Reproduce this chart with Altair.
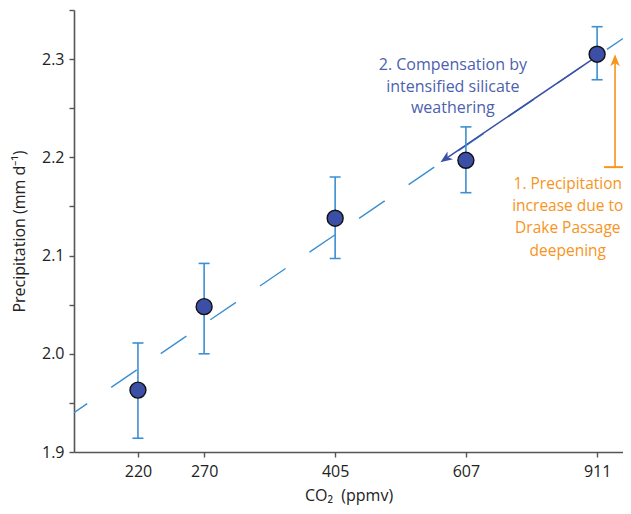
import altair as alt
import pandas as pd

# --- data ---
co2 = [220, 270, 405, 607, 911]
precip = [1.963, 2.048, 2.138, 2.197, 2.305]
err_low = [1.914, 2.000, 2.097, 2.164, 2.279]
err_high = [2.011, 2.092, 2.180, 2.231, 2.333]

x_domain = [180.5, 987]
fit_x = [180.5, 987]
fit_y = [1.940, 2.321]

comp_x = [911, 566]
comp_y = [2.303, 2.197]
comp_tip_x = [561]
comp_tip_y = [2.195]

drake_x = [963, 963]
drake_y = [2.190, 2.296]
drake_tip_y = [2.305]

blue_text = ["2. Compensation by\nintensified silicate\nweathering"]
blue_text_x = [583]
blue_text_y = [2.294]
orange_text = ["1. Precipitation\nincrease due to\nDrake Passage\ndeepening"]
orange_text_x = [832]
orange_text_y = [2.173]

x_ticks = [220, 270, 405, 607, 911]
y_ticks = [1.9, 1.95, 2.0, 2.05, 2.1, 2.15, 2.2, 2.25, 2.3, 2.35]

FONT = "Open Sans"
LIGHT = "#3b8fd2"
DARK = "#3c4fa6"
ORANGE = "#f7941d"

pts = pd.DataFrame({"co2": co2, "p": precip, "lo": err_low, "hi": err_high})
fit = pd.DataFrame({"co2": fit_x, "p": fit_y})
comp = pd.DataFrame({"co2": comp_x, "p": comp_y})
comp_tip = pd.DataFrame({"co2": comp_tip_x, "p": comp_tip_y})
drake = pd.DataFrame({"co2": drake_x, "p": drake_y})
drake_cap = pd.DataFrame({"co2": drake_x[:1], "p": drake_y[:1]})
drake_tip = pd.DataFrame({"co2": drake_x[:1], "p": drake_tip_y})
btxt = pd.DataFrame({"co2": blue_text_x, "p": blue_text_y, "t": blue_text})
otxt = pd.DataFrame({"co2": orange_text_x, "p": orange_text_y, "t": orange_text})

xscale = alt.Scale(type="log", domain=x_domain, nice=False, zero=False)
yscale = alt.Scale(domain=[1.9, 2.35], nice=False, zero=False)

xenc = alt.X("co2:Q", scale=xscale, title="CO₂\u00a0\u00a0(ppmv)",
             axis=alt.Axis(values=x_ticks, format="d", grid=False, labelFlush=False))
yenc = alt.Y("p:Q", scale=yscale, title="Precipitation (mm d⁻¹)",
             axis=alt.Axis(values=y_ticks, grid=False,
                           labelExpr="abs(datum.value*10 - round(datum.value*10)) < 0.01 && datum.value < 2.32 ? format(datum.value, '.1f') : ''"))

x_plain = alt.X("co2:Q", scale=xscale)
y_plain = alt.Y("p:Q", scale=yscale)

fit_line = alt.Chart(fit).mark_line(color=LIGHT, strokeWidth=1.4, strokeDash=[31, 29],
                                    strokeDashOffset=15, clip=True).encode(x=xenc, y=yenc)

comp_line = alt.Chart(comp).mark_line(color=DARK, strokeWidth=1.5).encode(x=x_plain, y=y_plain)
ARROW = "M0,0L0.8,2L0,1.45L-0.8,2Z"
comp_head = alt.Chart(comp_tip).mark_point(shape=ARROW, size=144, angle=235, filled=True,
                                           color=DARK, opacity=1).encode(x=x_plain, y=y_plain)

drake_line = alt.Chart(drake).mark_line(color=ORANGE, strokeWidth=1.6).encode(x=x_plain, y=y_plain)
drake_capm = alt.Chart(drake_cap).mark_tick(color=ORANGE, orient="horizontal", size=22,
                                            thickness=2, opacity=1).encode(x=x_plain, y=y_plain)
drake_head = alt.Chart(drake_tip).mark_point(shape=ARROW, size=144, angle=0, filled=True,
                                             color=ORANGE, opacity=1).encode(x=x_plain, y=y_plain)

err = alt.Chart(pts).mark_rule(color=LIGHT, strokeWidth=1.6).encode(
    x=x_plain, y=alt.Y("lo:Q", scale=yscale), y2="hi:Q")
cap_lo = alt.Chart(pts).mark_tick(color=LIGHT, orient="horizontal", size=11, thickness=1.6,
                                  opacity=1).encode(x=x_plain, y=alt.Y("lo:Q", scale=yscale))
cap_hi = alt.Chart(pts).mark_tick(color=LIGHT, orient="horizontal", size=11, thickness=1.6,
                                  opacity=1).encode(x=x_plain, y=alt.Y("hi:Q", scale=yscale))
dots = alt.Chart(pts).mark_circle(size=255, color=DARK, stroke="#111111", strokeWidth=1.4,
                                  opacity=1).encode(x=x_plain, y=y_plain)

btext = alt.Chart(btxt).mark_text(font=FONT, fontSize=16, color="#4d5fb0", lineBreak="\n",
                                  lineHeight=21.5, align="center", baseline="middle").encode(
    x=x_plain, y=y_plain, text="t:N")
otext = alt.Chart(otxt).mark_text(font=FONT, fontSize=15.5, color=ORANGE, lineBreak="\n",
                                  lineHeight=22.3, align="center", baseline="middle").encode(
    x=x_plain, y=y_plain, text="t:N")

chart = alt.layer(fit_line, comp_line, comp_head, drake_line, drake_capm, drake_head,
                  err, cap_lo, cap_hi, dots, btext, otext).properties(
    width=549, height=442,
    autosize=alt.AutoSizeParams(type="none"),
    padding={"left": 66, "top": 2, "right": 0, "bottom": 54},
).configure_view(stroke=None).configure_axis(
    labelFont=FONT, titleFont=FONT, labelFontSize=16, titleFontSize=16,
    labelColor="#222222", titleColor="#222222", titleFontWeight="normal",
    domainColor="#555555", domainWidth=1.6, tickColor="#555555", tickWidth=1.4, tickSize=5,
).configure_axisY(labelPadding=5, titlePadding=14).configure_axisX(labelPadding=6, titlePadding=8)

chart.save("out.html", embed_options={"renderer": "svg", "actions": False})
